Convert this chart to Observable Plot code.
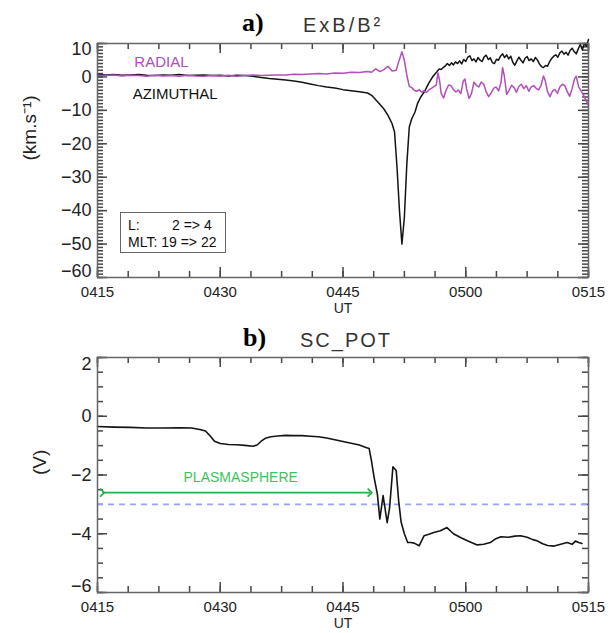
<!DOCTYPE html>
<html>
<head>
<meta charset="utf-8">
<script src="https://cdn.jsdelivr.net/npm/d3@7"></script>
<script src="https://cdn.jsdelivr.net/npm/@observablehq/plot@0.6"></script>
<style>
  body { margin: 0; background: #fff; }
  #wrap { position: relative; width: 616px; height: 633px; background: #fff; overflow: hidden; }
  .pl { position: absolute; font-family: "Liberation Serif", "Times New Roman", serif; font-weight: bold; font-size: 26px; line-height: 26px; color: #000; }
  .tt { position: absolute; font-family: "Liberation Sans", Arial, sans-serif; font-size: 20px; line-height: 20px; color: #333; letter-spacing: 3px; }
  .svgbox { position: absolute; left: 0; width: 616px; }
  #box { position: absolute; left: 120px; top: 212px; width: 104px; height: 39px; border: 1.5px solid #666; font-family: "Liberation Sans", Arial, sans-serif; font-size: 14px; color: #111; background: #fff; }
  #box span { position: absolute; white-space: pre; line-height: 16px; }
</style>
</head>
<body>
<div id="wrap">
  <div class="pl" style="left:242px; top:10px;">a)</div>
  <div class="tt" style="left:303px; top:15px;">ExB/B²</div>
  <div class="pl" style="left:243px; top:325px;">b)</div>
  <div class="tt" style="left:300px; top:330px; letter-spacing:2px;">SC_POT</div>
  <div class="svgbox" id="pa" style="top:0px;"></div>
  <div class="svgbox" id="pb" style="top:320px;"></div>
  <div id="box">
    <span style="left:7px; top:4px;">L:</span>
    <span style="left:51px; top:4px;">2 =&gt; 4</span>
    <span style="left:7px; top:21px;">MLT: 19 =&gt; 22</span>
  </div>
</div>
<script>
// ---------- Panel a: ExB/B^2 (km/s), time in minutes after 04:15 ----------
const azT = [0,1,2,3,4,5,6,7,8,9,10,11,12,13,14,15,16,17,18,19,20,21,22,23,24,25,26,27,28,29,30,31,32,33,33.5,34,34.5,35,35.5,36,36.3,36.6,36.9,37.2,37.5,37.8,38.1,38.4,38.8,39.1,39.5,
  40,40.25,40.5,40.75,41,41.25,41.5,41.75,42,42.25,42.5,42.75,43,43.25,43.5,43.75,44,44.25,44.5,44.75,45,45.25,45.5,45.75,46,46.25,46.5,46.75,47,47.25,47.5,47.75,48,48.25,48.5,48.75,49,49.25,49.5,49.75,50,50.25,50.5,50.75,51,51.25,51.5,51.75,52,52.25,52.5,52.75,53,53.25,53.5,53.75,54,54.25,54.5,54.75,55,55.25,55.5,55.75,56,56.25,56.5,56.75,57,57.25,57.5,57.75,58,58.25,58.5,58.75,59,59.25,59.5,59.75,60];
const azV = [0.8,0.6,0.7,0.5,0.6,0.7,0.5,0.4,0.6,0.5,0.7,0.4,0.5,0.6,0.4,0.5,0.3,0.5,0.4,0.2,-0.2,-0.5,-0.7,-0.9,-1.2,-1.6,-2.1,-2.6,-3.0,-3.3,-3.8,-4.1,-4.4,-4.8,-5.5,-6.8,-8.2,-9.6,-11.5,-14.0,-16.5,-27,-40,-50,-42,-26,-15,-12.5,-10.5,-8.0,-6.0,
  -4.2,-3.0,-1.8,-0.8,0.2,0.9,1.6,2.4,2.2,2.8,3.3,4.0,3.4,4.2,3.6,4.5,4.0,4.8,3.9,5.2,4.6,5.9,6.3,4.9,5.4,4.5,5.8,5.0,4.6,6.0,6.5,5.2,5.7,4.3,4.0,5.3,5.0,6.2,6.9,5.8,6.6,5.4,6.2,4.4,3.5,4.8,5.9,5.0,4.2,5.6,6.1,4.9,5.4,4.6,5.8,5.1,3.9,3.1,2.8,3.4,3.2,4.6,5.5,6.2,6.6,5.9,7.2,7.7,6.8,7.4,6.5,7.9,8.6,7.6,6.9,8.4,9.7,8.1,10.0,9.2,11.2];

const radT = [0,1,2,3,4,5,6,7,8,9,10,11,12,13,14,15,16,17,18,19,20,21,22,23,24,25,26,27,28,29,30,31,32,33,33.5,34,34.5,35,35.5,36,36.5,36.8,37.2,37.5,37.8,38.1,38.4,38.7,39.0,39.3,39.6,39.9,40.2,40.5,40.8,41.1,41.4,41.6,41.8,42.0,42.3,42.6,42.9,43.2,43.5,43.8,44.1,44.4,44.7,44.9,45.1,45.4,45.7,46.0,46.3,46.6,46.9,47.2,47.5,47.8,48.1,48.4,48.7,49.0,49.3,49.5,49.7,50.0,50.3,50.6,50.9,51.2,51.5,51.8,52.1,52.4,52.7,53.0,53.3,53.6,53.9,54.2,54.5,54.7,55.0,55.3,55.6,55.9,56.2,56.5,56.8,57.1,57.4,57.7,58.0,58.3,58.5,58.8,59.1,59.4,59.7,60.0];
const radV = [0.5,0.4,0.6,0.3,0.5,0.4,0.2,0.5,0.3,0.4,0.2,0.5,0.3,0.2,0.4,0.3,0.5,0.2,0.4,0.6,0.4,0.5,0.6,0.6,0.8,0.7,0.9,1.0,0.9,1.2,1.1,1.4,1.3,1.6,1.4,2.4,1.6,2.2,3.2,1.8,2.0,4.5,7.5,5.0,0.5,-2.8,-3.2,-4.0,-4.3,-3.8,-4.5,-4.2,-4.6,-3.9,-3.4,-2.9,-2.4,1.2,-1.0,-5.0,-6.3,-4.0,-2.4,-2.6,-3.8,-4.5,-3.9,-5.0,-1.2,-0.6,-3.5,-6.4,-5.0,-1.6,-2.5,-3.0,-1.5,-2.2,-4.5,-5.9,-4.8,-3.4,-3.0,-4.2,-1.8,2.8,0.5,-5.2,-4.0,-2.5,-3.2,-4.6,-2.8,-2.2,-3.5,-2.6,-4.3,-3.0,-2.6,-3.4,-3.9,-2.5,0.3,-1.0,-4.5,-5.9,-4.2,-3.8,-4.9,-3.0,-2.2,-2.6,-4.4,-5.8,-3.5,-0.5,0.2,-3.0,-4.2,-5.5,-7.0,-8.5];

// ---------- Panel b: SC_POT (V) ----------
const potT = [0,2,4,6,8,10,11.5,12.5,13.2,13.8,14.3,15,16,17,18,19,19.5,20,20.5,21.2,22,23,24,25,26,27,28,29,30,31,32,32.8,33.2,33.5,33.8,34.2,34.5,34.9,35.4,35.7,36.1,36.5,36.8,37.1,37.5,37.9,38.3,38.7,39.3,39.9,40.5,41.1,41.9,42.7,43.5,44.3,45.2,46.4,47.2,48.0,48.6,49.3,50.2,51.0,51.7,52.5,53.2,53.7,54.4,55.0,55.8,56.6,57.4,58.0,58.4,58.8,59.2];
const potV = [-0.35,-0.37,-0.38,-0.40,-0.40,-0.39,-0.40,-0.45,-0.50,-0.68,-0.85,-0.93,-0.96,-0.97,-0.99,-1.02,-0.98,-0.85,-0.75,-0.70,-0.67,-0.65,-0.66,-0.66,-0.68,-0.70,-0.74,-0.80,-0.86,-0.92,-0.98,-1.06,-1.10,-1.55,-2.08,-2.65,-3.5,-2.7,-3.62,-3.1,-1.72,-1.85,-2.88,-3.6,-4.0,-4.3,-4.3,-4.32,-4.41,-4.07,-4.02,-3.96,-3.9,-3.79,-4.0,-4.12,-4.24,-4.38,-4.36,-4.3,-4.18,-4.1,-4.12,-4.08,-4.07,-4.12,-4.2,-4.24,-4.34,-4.4,-4.42,-4.36,-4.3,-4.36,-4.25,-4.3,-4.33];

const xTicks = [0,15,30,45,60];
const xTickLabels = ["0415","0430","0445","0500","0515"];
const yTicksA = [10,0,-10,-20,-30,-40,-50,-60];
const yTicksB = [2,0,-2,-4,-6];
const plasmaThreshold = -3;
const plasmaArrow = {t1: 0.6, t2: 33.3, v: -2.6, label: "PLASMASPHERE", labelT: 17.5, labelV: -2.08};
const seriesLabels = [{t: 4.5, v: 4.4, text: "RADIAL", color: "#b44cbb"}, {t: 4.3, v: -5.1, text: "AZIMUTHAL", color: "#111"}];

const az = azT.map((t, i) => ({t, v: azV[i]}));
const rad = radT.map((t, i) => ({t, v: radV[i]}));
const pot = potT.map((t, i) => ({t, v: potV[i]}));

const font = "'Liberation Sans', Arial, sans-serif";
const frameColor = "#666";
const fmt = d => d < 0 ? "\u2212" + Math.abs(d) : String(d);
const xMinor = d3.range(0, 60.001, 3.75);

// inward IDL-style ticks on all four sides, lengths converted from px to data units
function tickMarks(yDomain, yMinor, yMajor, pxPerY, pxPerX) {
  const y0 = yDomain[0], y1 = yDomain[1];
  const lenXmin = 6 / pxPerY, lenXmaj = 10 / pxPerY;
  const lenYmin = 6 / pxPerX, lenYmaj = 10 / pxPerX;
  const col = "#474747", sw = 1.5;
  return [
    Plot.ruleX(xMinor, {x: d => d, y1: y0, y2: y0 + lenXmin, stroke: col, strokeWidth: sw}),
    Plot.ruleX(xMinor, {x: d => d, y1: y1 - lenXmin, y2: y1, stroke: col, strokeWidth: sw}),
    Plot.ruleX(xTicks, {x: d => d, y1: y0, y2: y0 + lenXmaj, stroke: col, strokeWidth: sw}),
    Plot.ruleX(xTicks, {x: d => d, y1: y1 - lenXmaj, y2: y1, stroke: col, strokeWidth: sw}),
    Plot.ruleY(yMinor, {y: d => d, x1: 0, x2: lenYmin, stroke: col, strokeWidth: sw}),
    Plot.ruleY(yMinor, {y: d => d, x1: 60 - lenYmin, x2: 60, stroke: col, strokeWidth: sw}),
    Plot.ruleY(yMajor, {y: d => d, x1: 0, x2: lenYmaj, stroke: col, strokeWidth: sw}),
    Plot.ruleY(yMajor, {y: d => d, x1: 60 - lenYmaj, x2: 60, stroke: col, strokeWidth: sw})
  ];
}

function axisText(yDomain, yMajor, yLabel, yLabelDx, edgeTop, edgeBot, yFont) {
  const y0 = yDomain[0], y1 = yDomain[1];
  const inner = yMajor.filter(d => d !== y0 && d !== y1);
  return [
    Plot.text(inner, {x: 0, y: d => d, text: fmt, textAnchor: "end", dx: -6, fontSize: yFont, fill: "#222"}),
    Plot.text([y1], {x: 0, y: d => d, text: fmt, textAnchor: "end", dx: -6, dy: edgeTop, fontSize: yFont, fill: "#222"}),
    Plot.text([y0], {x: 0, y: d => d, text: fmt, textAnchor: "end", dx: -6, dy: edgeBot, fontSize: yFont, fill: "#222"}),
    Plot.text(xTicks, {x: d => d, y: y0, text: (d, i) => xTickLabels[i], dy: 15, fontSize: 15, fill: "#222"}),
    Plot.text(["UT"], {frameAnchor: "bottom", dy: 35, text: d => d, fontSize: 14, fill: "#222"}),
    Plot.text([yLabel], {frameAnchor: "left", dx: yLabelDx, rotate: -90, text: d => d, fontSize: 19, fill: "#222"})
  ];
}

const domA = [-60, 10];
const plotA = Plot.plot({
  width: 616, height: 320,
  marginTop: 43, marginBottom: 43, marginLeft: 97, marginRight: 28,
  x: {domain: [0, 60], axis: null},
  y: {domain: domA, axis: null},
  style: {fontFamily: font, background: "transparent", overflow: "visible"},
  marks: [
    ...tickMarks(domA, d3.range(-60, 10.001, 1), yTicksA, 233.4 / 70, 491 / 60),
    Plot.line(az, {x: "t", y: "v", stroke: "#141414", strokeWidth: 1.5}),
    Plot.line(rad, {x: "t", y: "v", stroke: "#b44cbb", strokeWidth: 1.5}),
    Plot.text(seriesLabels, {x: "t", y: "v", text: "text", fill: "color", textAnchor: "start", fontSize: 15}),
    Plot.frame({stroke: frameColor, strokeWidth: 1.5}),
    ...axisText(domA, yTicksA, "(km.s\u207B\u00B9)", -68, 6, -6, 18)
  ]
});
document.getElementById("pa").appendChild(plotA);

const domB = [-6, 2];
const plotB = Plot.plot({
  width: 616, height: 313,
  marginTop: 37, marginBottom: 41, marginLeft: 97, marginRight: 28,
  x: {domain: [0, 60], axis: null},
  y: {domain: domB, axis: null},
  style: {fontFamily: font, background: "transparent", overflow: "visible"},
  marks: [
    ...tickMarks(domB, d3.range(-6, 2.001, 0.5), yTicksB, 234.7 / 8, 491 / 60),
    Plot.ruleY([plasmaThreshold], {stroke: "#98a2ff", strokeWidth: 1.8, strokeDasharray: "6,5"}),
    Plot.line(pot, {x: "t", y: "v", stroke: "#141414", strokeWidth: 1.6}),
    Plot.link([plasmaArrow], {x1: "t1", x2: "t2", y1: "v", y2: "v", stroke: "#22b04a", strokeWidth: 1.8, markerStart: "arrow", markerEnd: "arrow"}),
    Plot.text([plasmaArrow], {x: "labelT", y: "labelV", text: "label", fill: "#3ec25e", fontSize: 14}),
    Plot.frame({stroke: frameColor, strokeWidth: 1.5}),
    ...axisText(domB, yTicksB, "(V)", -58, 7, -6, 18)
  ]
});
document.getElementById("pb").appendChild(plotB);
</script>
</body>
</html>
